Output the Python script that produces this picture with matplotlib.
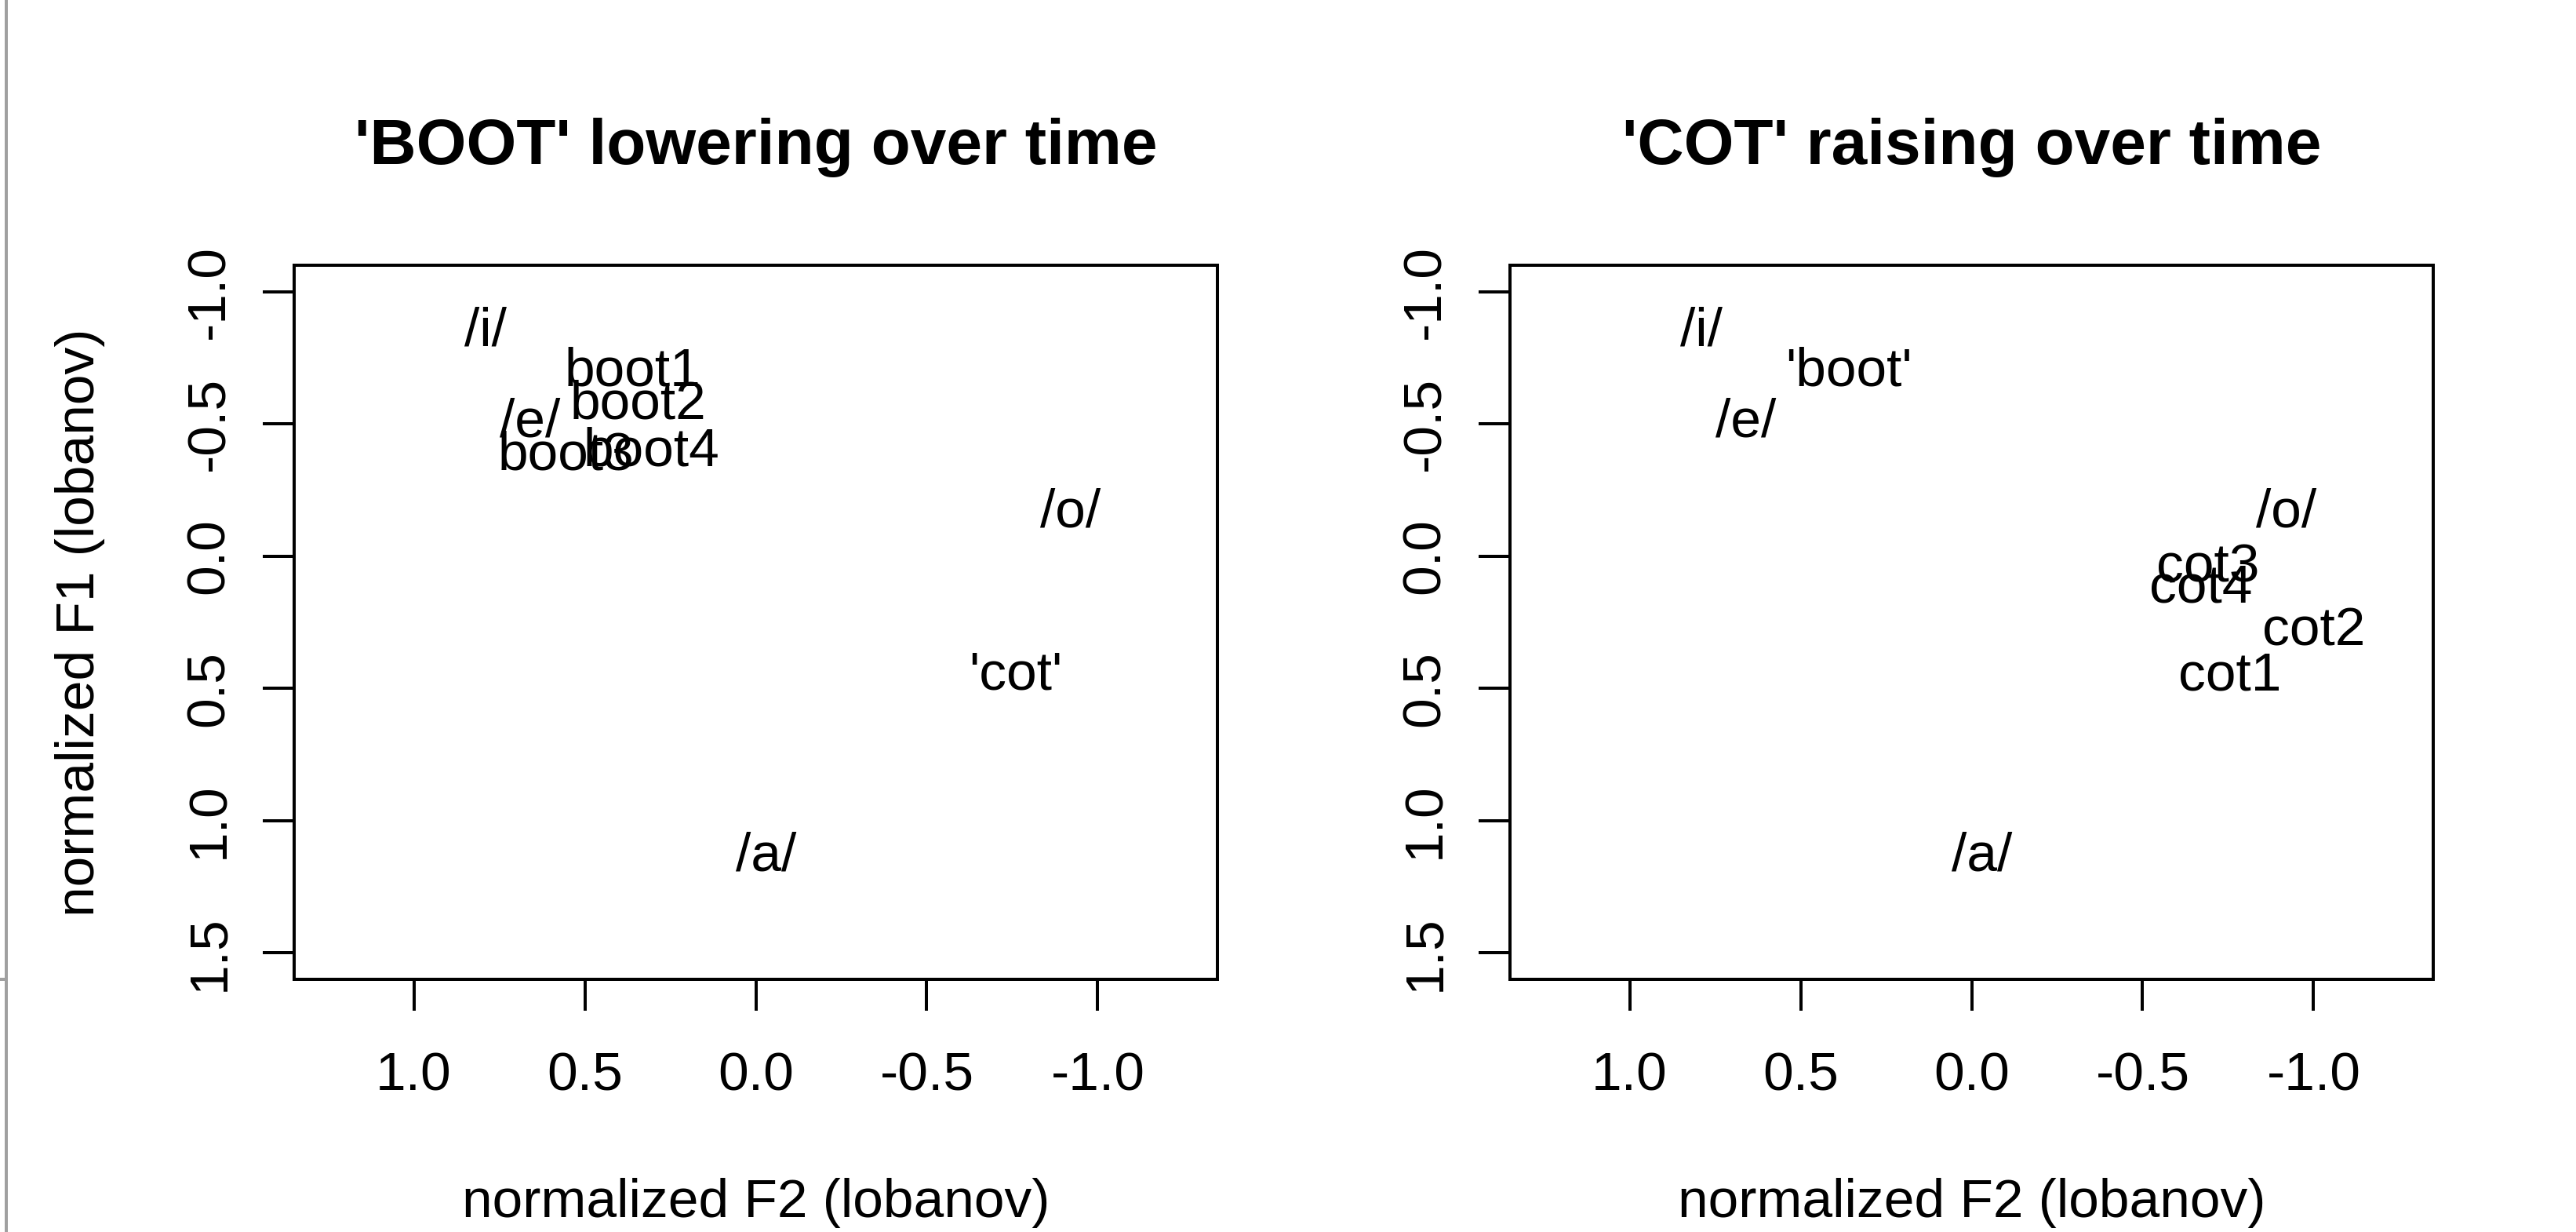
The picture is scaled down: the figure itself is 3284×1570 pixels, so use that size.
import matplotlib.pyplot as plt
from matplotlib.lines import Line2D

plt.rcParams['font.family'] = ['Liberation Sans', 'DejaVu Sans']

# reference vowels, same in both panels
vowel_labels = ['/i/', '/e/', '/o/', '/a/']
vowel_f2 = [0.79, 0.66, -0.92, -0.03]
vowel_f1 = [-0.87, -0.525, -0.185, 1.115]

# 'boot' over time
boot_labels = ['boot1', 'boot2', 'boot3', 'boot4']
boot_f2 = [0.36, 0.345, 0.555, 0.305]
boot_f1 = [-0.72, -0.595, -0.40, -0.415]

# 'cot' over time
cot_labels = ['cot1', 'cot2', 'cot3', 'cot4']
cot_f2 = [-0.755, -1.0, -0.69, -0.67]
cot_f1 = [0.433, 0.264, 0.024, 0.10]

# the other word shown as a single point
cot_ref = ("'cot'", -0.76, 0.43)
boot_ref = ("'boot'", 0.36, -0.718)

xticks = [1.0, 0.5, 0.0, -0.5, -1.0]
xtick_labels = ['1.0', '0.5', '0.0', '-0.5', '-1.0']
yticks = [-1.0, -0.5, 0.0, 0.5, 1.0, 1.5]
ytick_labels = ['-1.0', '-0.5', '0.0', '0.5', '1.0', '1.5']

W, H = 3284, 1570
fig = plt.figure(figsize=(W / 100, H / 100), dpi=100)
fig.patch.set_facecolor('white')

FS = 50
LW = 2.88

def setup_panel(left_px, title, ylabel=None):
    ax = fig.add_axes([left_px / W, 1 - 1248 / H, 1177 / W, 910 / H])
    ax.set_xlim(1.35, -1.35)
    ax.set_ylim(1.6, -1.1)
    for sp in ax.spines.values():
        sp.set_linewidth(LW)
    ax.set_xticks(xticks)
    ax.set_xticklabels(xtick_labels)
    ax.set_yticks(yticks)
    ax.set_yticklabels(ytick_labels, rotation=90, va='center')
    ax.tick_params(axis='both', direction='out', length=28.8, width=LW,
                   labelsize=FS)
    ax.tick_params(axis='x', pad=37)
    ax.tick_params(axis='y', pad=26)
    ax.set_title(title, fontsize=59, fontweight='bold', y=1 + 129 / 910,
                 va='baseline', pad=0)
    ax.set_xlabel('normalized F2 (lobanov)', fontsize=FS, va='baseline')
    ax.xaxis.set_label_coords(0.5, -(1551 - 1248) / 910)
    if ylabel:
        ax.set_ylabel(ylabel, fontsize=FS, va='baseline')
        ax.yaxis.set_label_coords(-(375 - 120) / 1177, 0.5)
    for s, x, y in zip(vowel_labels, vowel_f2, vowel_f1):
        ax.text(x, y, s, ha='center', va='center_baseline', fontsize=FS)
    return ax

ax1 = setup_panel(375, "'BOOT' lowering over time", 'normalized F1 (lobanov)')
for s, x, y in zip(boot_labels, boot_f2, boot_f1):
    ax1.text(x, y, s, ha='center', va='center_baseline', fontsize=FS)
ax1.text(cot_ref[1], cot_ref[2], cot_ref[0], ha='center',
         va='center_baseline', fontsize=FS)

ax2 = setup_panel(1925, "'COT' raising over time")
for s, x, y in zip(cot_labels, cot_f2, cot_f1):
    ax2.text(x, y, s, ha='center', va='center_baseline', fontsize=FS)
ax2.text(boot_ref[1], boot_ref[2], boot_ref[0], ha='center',
         va='center_baseline', fontsize=FS)

# window edge from the screenshot
fig.add_artist(Line2D([8 / W, 8 / W], [0, 1], transform=fig.transFigure,
                      color='#a0a0a0', lw=LW))
fig.add_artist(Line2D([0, 8 / W], [1 - 1248 / H, 1 - 1248 / H],
                      transform=fig.transFigure, color='#a0a0a0', lw=LW))

fig.savefig('out.png', dpi=100)
